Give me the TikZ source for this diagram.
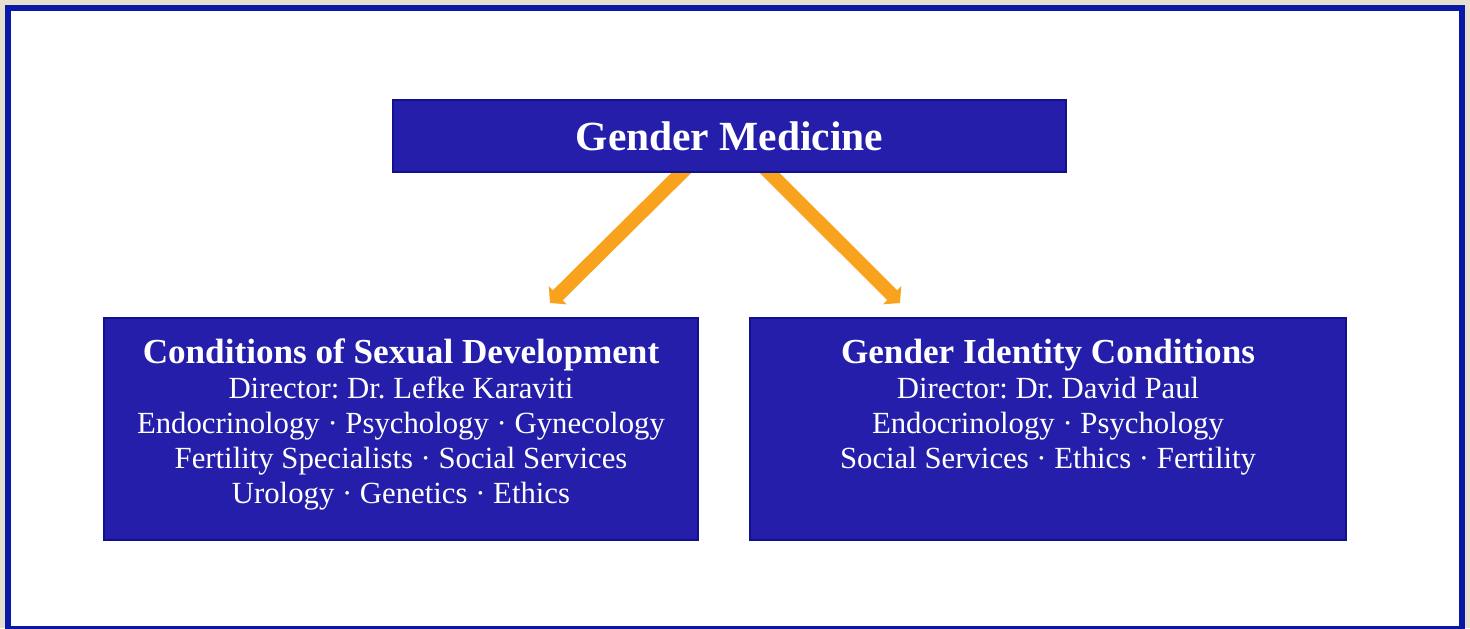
\documentclass[tikz,border=0pt]{standalone}
\usepackage{fontspec}
\setmainfont{Liberation Serif}
\frenchspacing
\usetikzlibrary{arrows.meta,positioning,calc}
\definecolor{paper}{RGB}{230,222,206}
\definecolor{framebl}{RGB}{10,24,168}
\definecolor{boxbl}{RGB}{36,30,170}
\definecolor{boxedge}{RGB}{16,18,140}
\definecolor{arrowor}{RGB}{248,162,30}
\pgfdeclarelayer{bg}
\pgfdeclarelayer{mid}
\pgfsetlayers{bg,mid,main}

\begin{document}
\begin{tikzpicture}[
	x=0.2mm, y=-0.2mm,
	unit/.style={rectangle, fill=boxbl, draw=boxedge, line width=0.5mm, inner sep=0pt},
	unittext/.style={text=white, align=center, inner sep=0pt, font=\fontsize{17.5}{19.9}\selectfont},
	flow/.style={draw=arrowor, line width=2.8mm, -{Triangle[width=5mm,length=2.2mm]}}
	]
	\useasboundingbox (0,0) rectangle (1470,628);

	% Le fond et le cadre
	\begin{pgfonlayer}{bg}
	\fill[paper] (0,0) rectangle (1470,628);
	\draw[framebl, fill=white, line width=1.2mm] (8,8) rectangle (1462,629);
	\end{pgfonlayer}

	% Les blocs
	\node[unit, minimum width=134.6mm, minimum height=14.4mm, text=white, font=\bfseries\fontsize{23.6}{26}\selectfont] (gm) at (729.5,136) {Gender Medicine};
	\node[unit, minimum width=118.8mm, minimum height=44.4mm] (csd) at (401,429) {};
	\node[unit, minimum width=119.2mm, minimum height=44.4mm] (gic) at (1048,429) {};

	% Les textes
	\node[unittext, anchor=north] (csd text) at ($(csd.north)+(0,22)$) {{\bfseries\fontsize{20}{19.9}\selectfont Conditions of Sexual Development}\\
		Director: Dr. Lefke Karaviti\\
		Endocrinology · Psychology · Gynecology\\
		Fertility Specialists · Social Services\\
		Urology · Genetics · Ethics};
	\node[unittext, anchor=north] (gic text) at ($(gic.north)+(0,22)$) {{\bfseries\fontsize{20}{19.9}\selectfont Gender Identity Conditions}\\
		Director: Dr. David Paul\\
		Endocrinology · Psychology\\
		Social Services · Ethics · Fertility};

	% Les flèches
	\coordinate (csd tip) at (550,303);
	\coordinate (gic tip) at (900,303);
	\begin{pgfonlayer}{mid}
	\draw[flow] ([xshift=-8.3mm,yshift=1.4mm]gm.south) -- (csd tip);
	\draw[flow] ([xshift=6.7mm,yshift=1.4mm]gm.south) -- (gic tip);
	\end{pgfonlayer}
\end{tikzpicture}
\end{document}
